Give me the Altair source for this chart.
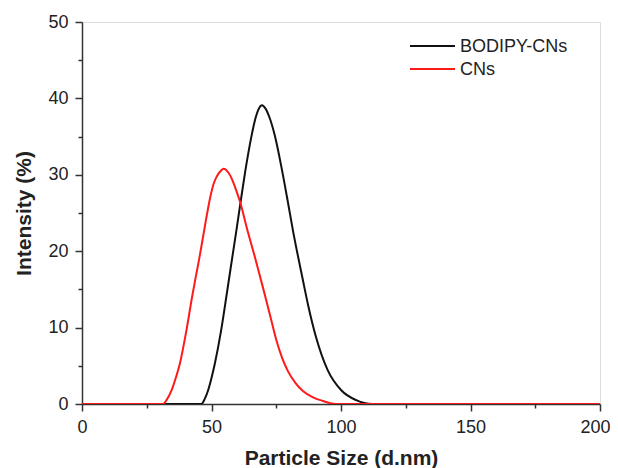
import altair as alt
import pandas as pd

# BODIPY-CNs series (particle size in d.nm, intensity in %)
bod_x = [0, 46.1, 47.3, 48.7, 50.0, 51.3, 53.6, 55.8, 57.4, 59.6, 61.3, 63.1, 65.4, 66.9, 68.2, 69.5,
         70.8, 72.4, 74.4, 77.0, 79.3, 81.4, 85.3, 87.2, 90.4, 94.9, 100.1, 105.9, 112.0, 200]
bod_y = [0, 0.0, 0.6, 1.8, 3.4, 5.3, 9.4, 14.2, 17.8, 22.7, 26.6, 30.6, 35.0, 37.3, 38.6, 39.1,
         38.7, 37.5, 35.2, 31.0, 26.8, 22.8, 16.2, 13.1, 8.7, 4.4, 1.8, 0.5, 0.0, 0]

# CNs series
cn_x = [0, 31.3, 32.8, 34.6, 36.2, 37.8, 40.3, 42.5, 43.9, 45.2, 47.1, 49.6, 50.8, 51.9, 53.5, 54.7,
        56.5, 57.8, 59.5, 61.0, 63.9, 66.7, 69.9, 72.7, 75.0, 77.3, 79.5, 82.3, 85.3, 89.0, 93.0, 98.0, 200]
cn_y = [0, 0.0, 0.6, 1.8, 3.4, 5.3, 9.6, 14.0, 16.6, 18.9, 22.6, 27.2, 28.8, 29.7, 30.5, 30.8,
        30.3, 29.5, 28.0, 26.5, 22.7, 19.3, 15.2, 11.5, 8.4, 6.0, 4.3, 2.8, 1.7, 0.9, 0.4, 0.0, 0]

series_names = ["BODIPY-CNs", "CNs"]
series_colors = ["#111111", "#ff1a1a"]

x_major = [0, 50, 100, 150, 200]
x_minor = [25, 75, 125, 175]
y_major = [0, 10, 20, 30, 40, 50]
y_minor = [5, 15, 25, 35, 45]

rows = []
for i, (x, y) in enumerate(zip(bod_x, bod_y)):
    rows.append({"size": x, "intensity": y, "series": series_names[0], "order": i})
for i, (x, y) in enumerate(zip(cn_x, cn_y)):
    rows.append({"size": x, "intensity": y, "series": series_names[1], "order": i})
df = pd.DataFrame(rows)

FONT = "Liberation Sans"

xscale = alt.Scale(domain=[0, 200], nice=False, zero=False)
yscale = alt.Scale(domain=[0, 50], nice=False)
cscale = alt.Scale(domain=series_names, range=series_colors)

main = alt.Chart(df).mark_line(interpolate="monotone", strokeWidth=2, clip=True).encode(
    x=alt.X("size:Q", scale=xscale,
            axis=alt.Axis(values=x_major, title="Particle Size (d.nm)", orient="bottom",
                          grid=False, tickSize=7, tickWidth=1.5, tickColor="#333",
                          domainColor="#333", domainWidth=1.5,
                          labelFont=FONT, labelFontSize=18, labelColor="#222", labelPadding=7,
                          labelFlush=False,
                          labelOffset={"expr": "datum.value == 200 ? -5 : 0"},
                          titleFont=FONT, titleFontSize=21, titleFontWeight="bold", titleColor="#222",
                          titlePadding=11)),
    y=alt.Y("intensity:Q", scale=yscale,
            axis=alt.Axis(values=y_major, title="Intensity (%)", orient="left",
                          grid=False, tickSize=7, tickWidth=1.5, tickColor="#333",
                          domainColor="#333", domainWidth=1.5,
                          labelFont=FONT, labelFontSize=18, labelColor="#222", labelPadding=7,
                          labelFlush=False,
                          titleFont=FONT, titleFontSize=21, titleFontWeight="bold", titleColor="#222",
                          titlePadding=13)),
    color=alt.Color("series:N", scale=cscale, legend=None),
    order="order:Q",
)

minor = alt.Chart(df).mark_line(opacity=0).encode(
    x=alt.X("size:Q", scale=xscale,
            axis=alt.Axis(values=x_minor, title=None, orient="bottom", labels=False,
                          grid=False, tickSize=4, tickWidth=1.5, tickColor="#333",
                          domain=False)),
    y=alt.Y("intensity:Q", scale=yscale,
            axis=alt.Axis(values=y_minor, title=None, orient="left", labels=False,
                          grid=False, tickSize=4, tickWidth=1.5, tickColor="#333",
                          domain=False)),
    detail="series:N",
)

# manual legend (top-right, inside plot)
legend_layers = []
for i, name in enumerate(series_names):
    ldf = pd.DataFrame({"series": [name]})
    yy = 24 + 23 * i
    legend_layers.append(
        alt.Chart(ldf).mark_rule(strokeWidth=2).encode(
            x=alt.value(328), x2=alt.value(373), y=alt.value(yy),
            color=alt.Color("series:N", scale=cscale, legend=None))
    )
    legend_layers.append(
        alt.Chart(ldf).mark_text(align="left", baseline="middle", font=FONT, fontSize=18,
                                 color="#222", dy=1).encode(
            x=alt.value(378), y=alt.value(yy), text="series:N")
    )

chart = alt.layer(main, minor, *legend_layers).resolve_axis(x="independent", y="independent").properties(
    width=518, height=382,
    autosize=alt.AutoSizeParams(type="none"),
    padding={"left": 74, "top": 14, "right": 10, "bottom": 64},
).configure_view(stroke="#333", strokeWidth=1.5).configure(background="white")

chart.save("out.html", embed_options={"renderer": "svg", "actions": False})
